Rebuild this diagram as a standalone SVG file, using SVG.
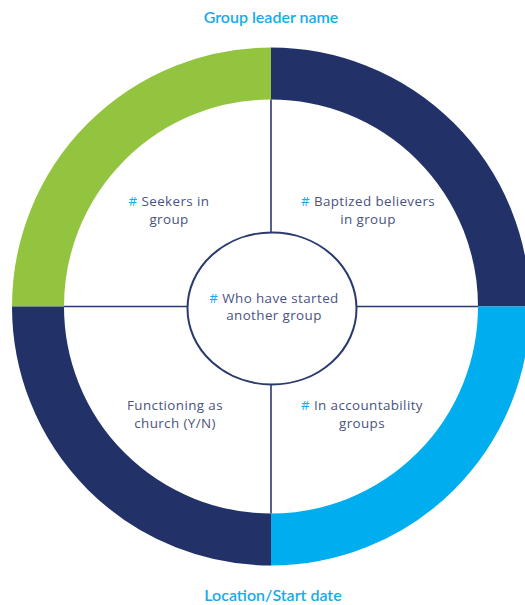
<svg xmlns="http://www.w3.org/2000/svg" width="525" height="605" viewBox="0 0 525 605">
<style>
.seg{fill:none;stroke-width:52;stroke-linecap:butt}
.ln{stroke:#2B3A6E;stroke-width:1.6;fill:none}
.lbl{font-family:"Open Sans",Lato,"Liberation Sans",sans-serif;font-size:13.4px;letter-spacing:0.4px;fill:#4A5380;text-anchor:middle}
.h{fill:#16ACEA}
.ttl{font-family:Lato,"Open Sans","Liberation Sans",sans-serif;font-size:16px;font-weight:600;fill:#16ACEA;text-anchor:middle}
</style>
<rect width="525" height="605" fill="#fff"/>
<g id="ring">
<path class="seg" stroke="#93C43F" d="M38,306.5 A233,233 0 0 1 271,73.5"/>
<path class="seg" stroke="#223268" d="M271,73.5 A233,233 0 0 1 504,306.5"/>
<path class="seg" stroke="#00AEEF" d="M504,306.5 A233,233 0 0 1 271,539.5"/>
<path class="seg" stroke="#223268" d="M271,539.5 A233,233 0 0 1 38,306.5"/>
</g>
<g id="connectors">
<line class="ln" x1="271" y1="99.5" x2="271" y2="232.5"/>
<line class="ln" x1="271" y1="384.5" x2="271" y2="513.5"/>
<line class="ln" x1="64" y1="306.5" x2="187.5" y2="306.5"/>
<line class="ln" x1="356.5" y1="306.5" x2="478" y2="306.5"/>
</g>
<g id="title"><text class="ttl" x="271" y="23">Group leader name</text></g>
<g id="seekers"><text class="lbl" x="169" y="206"><tspan class="h">#</tspan> Seekers in</text><text class="lbl" x="169" y="223.5">group</text></g>
<g id="baptized"><text class="lbl" x="368" y="206"><tspan class="h">#</tspan> Baptized believers</text><text class="lbl" x="368" y="223.5">in group</text></g>
<g id="functioning"><text class="lbl" x="175" y="410">Functioning as</text><text class="lbl" x="175" y="427.5">church (Y/N)</text></g>
<g id="accountability"><text class="lbl" x="362" y="410"><tspan class="h">#</tspan> In accountability</text><text class="lbl" x="362" y="427.5">groups</text></g>
<g id="center"><ellipse cx="272" cy="308.5" rx="84.5" ry="76" fill="#fff" stroke="#2B3A6E" stroke-width="2"/><text class="lbl" x="274" y="302.5"><tspan class="h">#</tspan> Who have started</text><text class="lbl" x="274" y="320">another group</text></g>
<g id="footer"><text class="ttl" x="273" y="601">Location/Start date</text></g>
</svg>
